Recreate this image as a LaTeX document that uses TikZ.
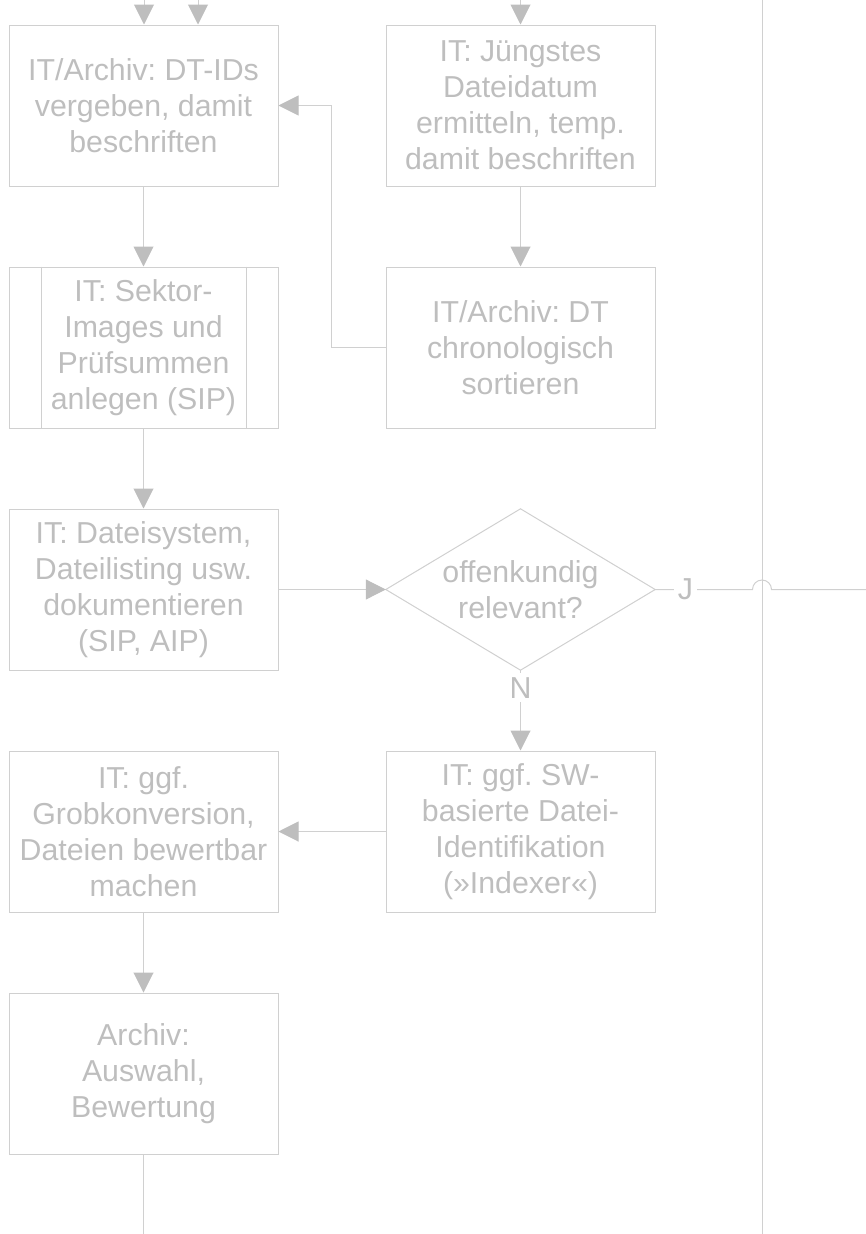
\documentclass[tikz,border=0pt]{standalone}
\usepackage{fontspec}
\setmainfont{Liberation Sans}
\usetikzlibrary{arrows.meta}
\definecolor{txtgray}{RGB}{190,190,190}
\definecolor{linegray}{RGB}{208,208,208}
\definecolor{tipgray}{RGB}{190,190,190}
\frenchspacing
\begin{document}
\begin{tikzpicture}[x=1pt,y=-1pt,
  font=\fontsize{30.3}{36}\selectfont\frenchspacing,
  every node/.style={text=txtgray},
  procbox/.style={draw=linegray, line width=1pt, minimum width=269pt, minimum height=161pt, inner sep=0pt, align=center},
  conn/.style={draw=linegray, line width=1pt},
  arr/.style={conn, -{Triangle[length=20pt,width=20pt,color=tipgray,fill=tipgray]}},
  lbl/.style={fill=white, inner sep=4pt}
]
\useasboundingbox (0,0) rectangle (866,1234);

% boxes
\node[procbox] (A) at (143.5,105.5) {IT/Archiv: DT-IDs\\vergeben, damit\\beschriften};
\node[procbox] (B) at (520.5,105.5) {IT: Jüngstes\\Dateidatum\\ermitteln, temp.\\damit beschriften};
\node[procbox] (D) at (143.5,347.5) {IT: Sektor-\\Images und\\Prüfsummen\\anlegen (SIP)};
\node[procbox] (C) at (520.5,347.5) {IT/Archiv: DT\\chronologisch\\sortieren};
\node[procbox] (E) at (143.5,589.5) {IT: Dateisystem,\\Dateilisting usw.\\dokumentieren\\(SIP, AIP)};
\node[minimum width=269pt, minimum height=161pt, inner sep=0pt, align=center] (Q) at (520.5,589.5) {offenkundig\\relevant?};
\node[procbox] (F) at (520.5,831.5) {IT: ggf. SW-\\basierte Datei-\\Identifikation\\(»Indexer«)};
\node[procbox] (G) at (143.5,831.5) {IT: ggf.\\Grobkonversion,\\Dateien bewertbar\\machen};
\node[procbox] (H) at (143.5,1073.5) {Archiv:\\Auswahl,\\Bewertung};

% predefined-process side lines
\draw[conn] ([xshift=32.5pt]D.north west) -- ([xshift=32.5pt]D.south west);
\draw[conn] ([xshift=-32.5pt]D.north east) -- ([xshift=-32.5pt]D.south east);

% decision diamond
\draw[conn] (Q.north) -- (Q.east) -- (Q.south) -- (Q.west) -- cycle;

% free ends
\coordinate (t1) at (144,0);
\coordinate (t2) at (198,0);
\coordinate (t3) at (520.5,0);
\coordinate (vtop) at (762,0);
\coordinate (vbot) at (762,1234);
\coordinate (jl) at (752.5,589.5);
\coordinate (jend) at (866,589.5);
\coordinate (hbot) at (143.5,1234);

% vertical lane line
\draw[conn] (vtop) -- (vbot);

% connectors
\draw[arr] (t1) -- (t1 |- A.north);
\draw[arr] (t2) -- (t2 |- A.north);
\draw[arr] (t3) -- (B.north);
\draw[arr] (A.south) -- (D.north);
\draw[arr] (B.south) -- (C.north);
\draw[arr] (C.west) -- ++(-54,0) |- (A.east);
\draw[arr] (D.south) -- (E.north);
\draw[arr] (E.east) -- (Q.west);
\draw[conn] (Q.east) -- node[lbl, pos=0.31] {J} (jl) arc[start angle=180, end angle=0, radius=9.5pt] -- (jend);
\draw[arr] (Q.south) -- node[lbl, pos=0.22] {N} (F.north);
\draw[arr] (F.west) -- (G.east);
\draw[arr] (G.south) -- (H.north);
\draw[conn] (H.south) -- (hbot);
\end{tikzpicture}
\end{document}
